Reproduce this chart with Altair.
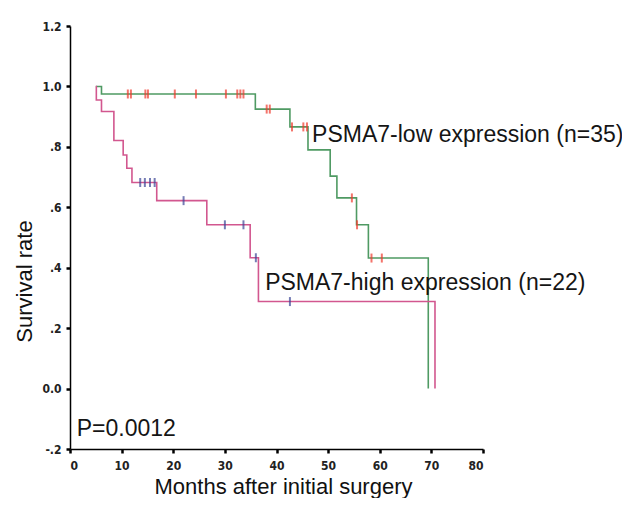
import altair as alt
import pandas as pd

# Kaplan-Meier step curves (months, survival)
low_t = [5.0, 6.1, 35.9, 42.6, 46.1, 50.4, 51.7, 55.5, 57.8, 69.4]
low_s = [1.0, 0.975, 0.925, 0.866, 0.790, 0.703, 0.631, 0.542, 0.432, 0.0]
high_t = [5.0, 5.1, 6.1, 8.5, 10.3, 11.0, 12.0, 16.8, 26.5, 34.9, 36.5, 70.7]
high_s = [1.0, 0.955, 0.917, 0.821, 0.773, 0.729, 0.682, 0.622, 0.542, 0.433, 0.288, 0.0]

# censored observations
low_cens_t = [11.2, 11.8, 14.6, 15.1, 20.3, 24.4, 30.2, 32.4, 33.0, 33.6,
              38.1, 38.7, 43.0, 45.2, 45.9, 54.6, 55.6, 58.4, 60.4]
low_cens_s = [0.975] * 10 + [0.925] * 2 + [0.866] * 3 + [0.631, 0.542, 0.432, 0.432]
high_cens_t = [13.6, 14.5, 15.5, 16.4, 22.0, 30.0, 33.6, 36.0, 42.6]
high_cens_s = [0.682] * 4 + [0.622, 0.542, 0.542, 0.433, 0.288]

# annotations
ann_text = ["PSMA7-low expression (n=35)", "PSMA7-high expression (n=22)", "P=0.0012"]
ann_x = [46.9, 37.8, 1.3]
ann_y = [0.817, 0.326, -0.157]

y_ticks = [-0.2, 0.0, 0.2, 0.4, 0.6, 0.8, 1.0, 1.2]
x_ticks = [0, 10, 20, 30, 40, 50, 60, 70, 80]

low_df = pd.DataFrame({"t": low_t, "s": low_s})
high_df = pd.DataFrame({"t": high_t, "s": high_s})
lowc_df = pd.DataFrame({"t": low_cens_t, "s": low_cens_s})
highc_df = pd.DataFrame({"t": high_cens_t, "s": high_cens_s})
ann_df = pd.DataFrame({"label": ann_text, "t": ann_x, "s": ann_y})

TICKFONT = "Liberation Sans Narrow, DejaVu Sans Condensed, Liberation Sans"
FONT = "Liberation Sans"

x_enc = alt.X(
    "t:Q",
    scale=alt.Scale(domain=[0, 80], nice=False, zero=False),
    axis=alt.Axis(
        values=x_ticks, format="d", grid=False,
        domainColor="black", domainWidth=1.5,
        tickColor="black", tickSize=4, tickWidth=2.5,
        labelFont=TICKFONT, labelFontSize=12, labelFontWeight="bold",
        labelColor="#222", labelPadding=7,
        title="Months after initial surgery", titleFont=FONT,
        titleFontSize=22, titleFontWeight="normal", titleColor="#111",
        titleX=213, titleY=44, titleAlign="center", titleBaseline="alphabetic",
    ),
)
y_enc = alt.Y(
    "s:Q",
    scale=alt.Scale(domain=[-0.2, 1.2], nice=False, zero=False),
    axis=alt.Axis(
        values=y_ticks, grid=False,
        labelExpr="datum.value == 0 ? '0.0' : (abs(datum.value) < 0.99 ? (datum.value < 0 ? '-' : '') + replace(format(abs(datum.value), '.1f'), '0.', '.') : format(datum.value, '.1f'))",
        domainColor="black", domainWidth=1.5,
        tickColor="black", tickSize=4, tickWidth=2.5,
        labelFont=TICKFONT, labelFontSize=12, labelFontWeight="bold",
        labelColor="#222", labelPadding=5,
        title="Survival rate", titleFont=FONT, titleFontSize=22,
        titleFontWeight="normal", titleColor="#111",
        titleX=-46, titleY=255, titleAngle=270,
        titleAlign="center", titleBaseline="middle",
    ),
)

low_line = alt.Chart(low_df).mark_line(
    interpolate="step-after", color="#4f9a63", strokeWidth=1.6
).encode(x=x_enc, y=y_enc)
high_line = alt.Chart(high_df).mark_line(
    interpolate="step-after", color="#d2578f", strokeWidth=1.6
).encode(x="t:Q", y="s:Q")
low_cens = alt.Chart(lowc_df).mark_tick(
    orient="vertical", color="#f0392c", size=9, thickness=2
).encode(x="t:Q", y="s:Q")
high_cens = alt.Chart(highc_df).mark_tick(
    orient="vertical", color="#3b4596", size=9, thickness=2
).encode(x="t:Q", y="s:Q")
ann = alt.Chart(ann_df).mark_text(
    align="left", baseline="alphabetic", font=FONT, fontSize=23, color="#151515"
).encode(x="t:Q", y="s:Q", text="label:N")

chart = alt.layer(low_line, high_line, low_cens, high_cens, ann).properties(
    width=413,
    height=423,
    padding={"left": 62, "top": 18, "right": 139, "bottom": 49},
    autosize=alt.AutoSizeParams(type="none"),
    background="white",
).configure_view(stroke=None)

chart.save("out.html", embed_options={"renderer": "svg", "actions": False})
